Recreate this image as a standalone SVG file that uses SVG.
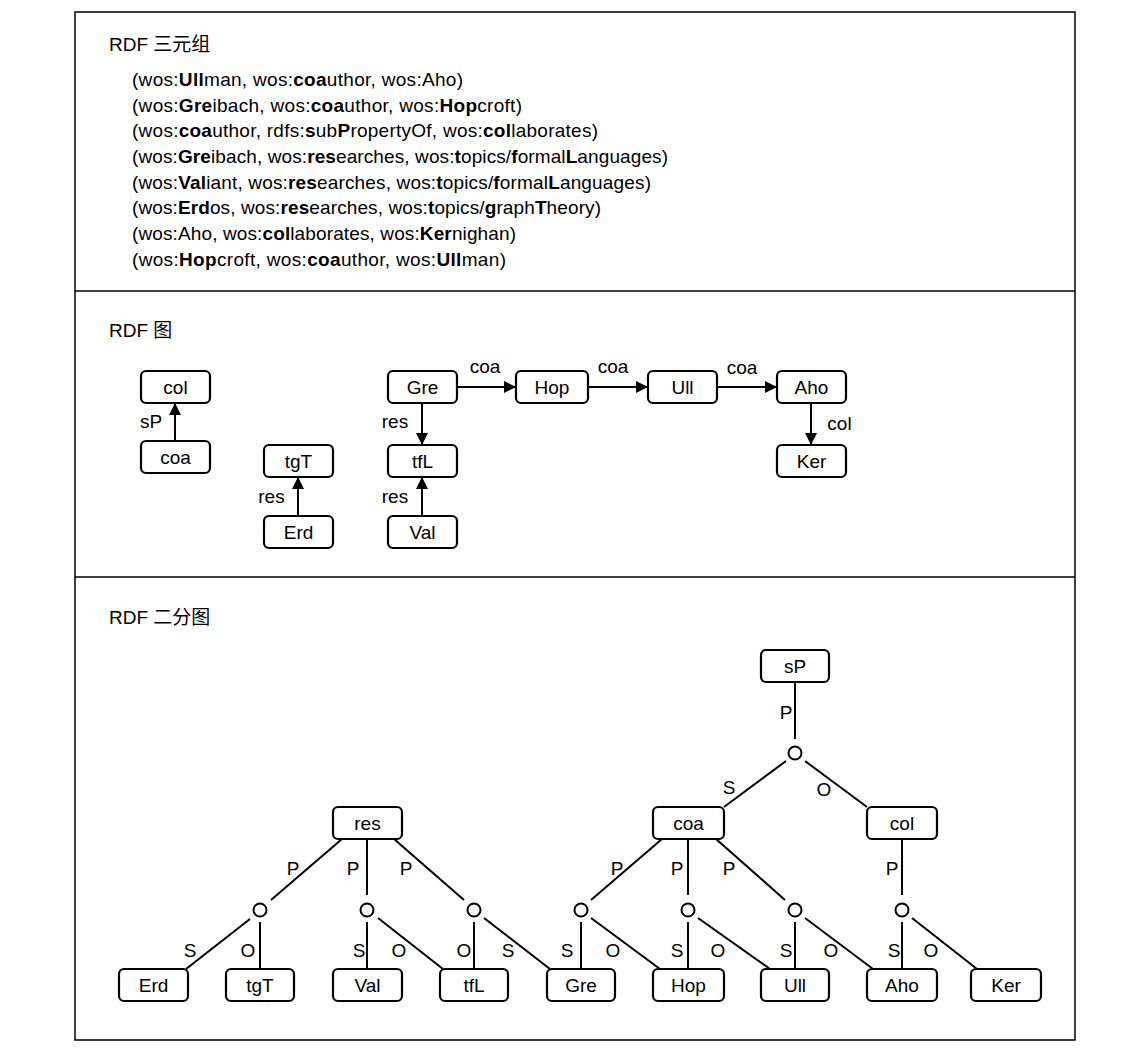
<svg xmlns="http://www.w3.org/2000/svg" width="1133" height="1053" viewBox="0 0 1133 1053">
<style>
.t{font-family:"Liberation Sans","Noto Sans CJK SC",sans-serif;font-size:19px;fill:#000}
.m{text-anchor:middle}
.b{font-weight:bold}
.box{fill:#fff;stroke:#000;stroke-width:2.2}
.e{stroke:#000;stroke-width:2;fill:none}
.a{marker-end:url(#ah)}
.cir{fill:#fff;stroke:#000;stroke-width:2}
.frame{fill:none;stroke:#000;stroke-width:1.5}
</style>
<defs>
<marker id="ah" viewBox="0 0 12 12" refX="12" refY="6" markerWidth="12" markerHeight="12" markerUnits="userSpaceOnUse" orient="auto"><path d="M0,0 L12,6 L0,12 z" fill="#000"/></marker>
</defs>
<rect width="1133" height="1053" fill="#fff"/>
<g id="frame">
<rect class="frame" x="75" y="12" width="1000" height="1028"/>
<line class="frame" x1="75" y1="291" x2="1075" y2="291"/>
<line class="frame" x1="75" y1="577" x2="1075" y2="577"/>
</g>
<g id="headings">
<text class="t" x="109" y="51">RDF 三元组</text>
<text class="t" x="109" y="337">RDF 图</text>
<text class="t" x="109" y="624">RDF 二分图</text>
</g>
<g id="triples">
<text class="t" x="132" y="86" textLength="331" lengthAdjust="spacing">(wos:<tspan class="b">Ull</tspan>man, wos:<tspan class="b">coa</tspan>uthor, wos:Aho)</text>
<text class="t" x="132" y="111.5" textLength="390" lengthAdjust="spacing">(wos:<tspan class="b">Gre</tspan>ibach, wos:<tspan class="b">coa</tspan>uthor, wos:<tspan class="b">Hop</tspan>croft)</text>
<text class="t" x="132" y="137" textLength="466" lengthAdjust="spacing">(wos:<tspan class="b">coa</tspan>uthor, rdfs:<tspan class="b">s</tspan>ub<tspan class="b">P</tspan>ropertyOf, wos:<tspan class="b">col</tspan>laborates)</text>
<text class="t" x="132" y="163" textLength="536" lengthAdjust="spacing">(wos:<tspan class="b">Gre</tspan>ibach, wos:<tspan class="b">res</tspan>earches, wos:<tspan class="b">t</tspan>opics/<tspan class="b">f</tspan>ormal<tspan class="b">L</tspan>anguages)</text>
<text class="t" x="132" y="188.5" textLength="519" lengthAdjust="spacing">(wos:<tspan class="b">Val</tspan>iant, wos:<tspan class="b">res</tspan>earches, wos:<tspan class="b">t</tspan>opics/<tspan class="b">f</tspan>ormal<tspan class="b">L</tspan>anguages)</text>
<text class="t" x="132" y="214" textLength="469" lengthAdjust="spacing">(wos:<tspan class="b">Erd</tspan>os, wos:<tspan class="b">res</tspan>earches, wos:<tspan class="b">t</tspan>opics/<tspan class="b">g</tspan>raph<tspan class="b">T</tspan>heory)</text>
<text class="t" x="132" y="240" textLength="384" lengthAdjust="spacing">(wos:Aho, wos:<tspan class="b">col</tspan>laborates, wos:<tspan class="b">Ker</tspan>nighan)</text>
<text class="t" x="132" y="265.5" textLength="374" lengthAdjust="spacing">(wos:<tspan class="b">Hop</tspan>croft, wos:<tspan class="b">coa</tspan>uthor, wos:<tspan class="b">Ull</tspan>man)</text>
</g>
<g id="graph-connectors">
<line class="e a" x1="175" y1="441" x2="175" y2="403"/>
<line class="e a" x1="298" y1="516" x2="298" y2="477"/>
<line class="e a" x1="422" y1="403" x2="422" y2="445"/>
<line class="e a" x1="422" y1="516" x2="422" y2="477"/>
<line class="e a" x1="457" y1="387" x2="516" y2="387"/>
<line class="e a" x1="588" y1="387" x2="648" y2="387"/>
<line class="e a" x1="717" y1="387" x2="777" y2="387"/>
<line class="e a" x1="811" y1="403" x2="811" y2="445"/>
<text class="t m" x="151" y="428">sP</text>
<text class="t m" x="271.5" y="503">res</text>
<text class="t m" x="395" y="428">res</text>
<text class="t m" x="395" y="503">res</text>
<text class="t m" x="485" y="373">coa</text>
<text class="t m" x="613" y="373">coa</text>
<text class="t m" x="742" y="374">coa</text>
<text class="t m" x="839.5" y="430">col</text>
</g>
<g id="g-col"><rect class="box" x="141" y="371" width="69" height="32" rx="5"/><text class="t m" x="175.5" y="393.5">col</text></g>
<g id="g-coa"><rect class="box" x="141" y="441" width="69" height="32" rx="5"/><text class="t m" x="175.5" y="463.5">coa</text></g>
<g id="g-tgT"><rect class="box" x="264" y="445" width="69" height="32" rx="5"/><text class="t m" x="298.5" y="467.5">tgT</text></g>
<g id="g-Erd"><rect class="box" x="264" y="516" width="69" height="32" rx="5"/><text class="t m" x="298.5" y="538.5">Erd</text></g>
<g id="g-Gre"><rect class="box" x="388" y="371" width="69" height="32" rx="5"/><text class="t m" x="422.5" y="393.5">Gre</text></g>
<g id="g-tfL"><rect class="box" x="388" y="445" width="69" height="32" rx="5"/><text class="t m" x="422.5" y="467.5">tfL</text></g>
<g id="g-Val"><rect class="box" x="388" y="516" width="69" height="32" rx="5"/><text class="t m" x="422.5" y="538.5">Val</text></g>
<g id="g-Hop"><rect class="box" x="516" y="371" width="72" height="32" rx="5"/><text class="t m" x="552" y="393.5">Hop</text></g>
<g id="g-Ull"><rect class="box" x="648" y="371" width="69" height="32" rx="5"/><text class="t m" x="682.5" y="393.5">Ull</text></g>
<g id="g-Aho"><rect class="box" x="777" y="371" width="69" height="32" rx="5"/><text class="t m" x="811.5" y="393.5">Aho</text></g>
<g id="g-Ker"><rect class="box" x="777" y="445" width="69" height="32" rx="5"/><text class="t m" x="811.5" y="467.5">Ker</text></g>
<g id="bip-connectors">
<line class="e" x1="342" y1="839" x2="271" y2="900"/>
<line class="e" x1="367" y1="839" x2="367" y2="895"/>
<line class="e" x1="394" y1="839" x2="464" y2="900"/>
<line class="e" x1="662" y1="839" x2="591" y2="900"/>
<line class="e" x1="688" y1="839" x2="688" y2="895"/>
<line class="e" x1="716" y1="839" x2="785" y2="900"/>
<line class="e" x1="902" y1="839" x2="902" y2="895"/>
<line class="e" x1="795" y1="682" x2="795" y2="739"/>
<line class="e" x1="786" y1="761" x2="724" y2="807"/>
<line class="e" x1="805" y1="761" x2="867" y2="807"/>
<line class="e" x1="250" y1="919" x2="186" y2="969"/>
<line class="e" x1="260" y1="922" x2="260" y2="969"/>
<line class="e" x1="367" y1="922" x2="367" y2="969"/>
<line class="e" x1="378" y1="918" x2="443" y2="969"/>
<line class="e" x1="474" y1="922" x2="474" y2="969"/>
<line class="e" x1="484" y1="918" x2="550" y2="969"/>
<line class="e" x1="581" y1="922" x2="581" y2="969"/>
<line class="e" x1="591" y1="918" x2="660" y2="969"/>
<line class="e" x1="688" y1="922" x2="688" y2="969"/>
<line class="e" x1="698" y1="918" x2="770" y2="969"/>
<line class="e" x1="795" y1="922" x2="795" y2="969"/>
<line class="e" x1="805" y1="918" x2="873" y2="969"/>
<line class="e" x1="902" y1="922" x2="902" y2="969"/>
<line class="e" x1="912" y1="918" x2="977" y2="969"/>
<text class="t m" x="293" y="874.5">P</text>
<text class="t m" x="353" y="874.5">P</text>
<text class="t m" x="406" y="874.5">P</text>
<text class="t m" x="617" y="874.5">P</text>
<text class="t m" x="677" y="874.5">P</text>
<text class="t m" x="729" y="874.5">P</text>
<text class="t m" x="892" y="874.5">P</text>
<text class="t m" x="786" y="718.5">P</text>
<text class="t m" x="729" y="793.5">S</text>
<text class="t m" x="824" y="795.5">O</text>
<text class="t m" x="190" y="956.5">S</text>
<text class="t m" x="248" y="956.5">O</text>
<text class="t m" x="359" y="956.5">S</text>
<text class="t m" x="399" y="956.5">O</text>
<text class="t m" x="464" y="956.5">O</text>
<text class="t m" x="508" y="956.5">S</text>
<text class="t m" x="567" y="956.5">S</text>
<text class="t m" x="613" y="956.5">O</text>
<text class="t m" x="677" y="956.5">S</text>
<text class="t m" x="718" y="956.5">O</text>
<text class="t m" x="786" y="956.5">S</text>
<text class="t m" x="831" y="956.5">O</text>
<text class="t m" x="894" y="956.5">S</text>
<text class="t m" x="931" y="956.5">O</text>
</g>
<g id="bip-circles">
<circle class="cir" cx="795" cy="753" r="6.5"/>
<circle class="cir" cx="260" cy="910" r="6.5"/>
<circle class="cir" cx="367" cy="910" r="6.5"/>
<circle class="cir" cx="474" cy="910" r="6.5"/>
<circle class="cir" cx="581" cy="910" r="6.5"/>
<circle class="cir" cx="688" cy="910" r="6.5"/>
<circle class="cir" cx="795" cy="910" r="6.5"/>
<circle class="cir" cx="902" cy="910" r="6.5"/>
</g>
<g id="b-sP"><rect class="box" x="761" y="650" width="68" height="32" rx="5"/><text class="t m" x="795" y="672.5">sP</text></g>
<g id="b-res"><rect class="box" x="333" y="807" width="69" height="32" rx="5"/><text class="t m" x="367.5" y="829.5">res</text></g>
<g id="b-coa"><rect class="box" x="653" y="807" width="71" height="32" rx="5"/><text class="t m" x="688.5" y="829.5">coa</text></g>
<g id="b-col"><rect class="box" x="867" y="807" width="70" height="32" rx="5"/><text class="t m" x="902" y="829.5">col</text></g>
<g id="b-Erd"><rect class="box" x="119" y="969" width="69" height="32" rx="5"/><text class="t m" x="153.5" y="991.5">Erd</text></g>
<g id="b-tgT"><rect class="box" x="226" y="969" width="68" height="32" rx="5"/><text class="t m" x="260" y="991.5">tgT</text></g>
<g id="b-Val"><rect class="box" x="333" y="969" width="69" height="32" rx="5"/><text class="t m" x="367.5" y="991.5">Val</text></g>
<g id="b-tfL"><rect class="box" x="440" y="969" width="68" height="32" rx="5"/><text class="t m" x="474" y="991.5">tfL</text></g>
<g id="b-Gre"><rect class="box" x="547" y="969" width="68" height="32" rx="5"/><text class="t m" x="581" y="991.5">Gre</text></g>
<g id="b-Hop"><rect class="box" x="653" y="969" width="71" height="32" rx="5"/><text class="t m" x="688.5" y="991.5">Hop</text></g>
<g id="b-Ull"><rect class="box" x="761" y="969" width="68" height="32" rx="5"/><text class="t m" x="795" y="991.5">Ull</text></g>
<g id="b-Aho"><rect class="box" x="867" y="969" width="70" height="32" rx="5"/><text class="t m" x="902" y="991.5">Aho</text></g>
<g id="b-Ker"><rect class="box" x="971" y="969" width="70" height="32" rx="5"/><text class="t m" x="1006" y="991.5">Ker</text></g>
</svg>
